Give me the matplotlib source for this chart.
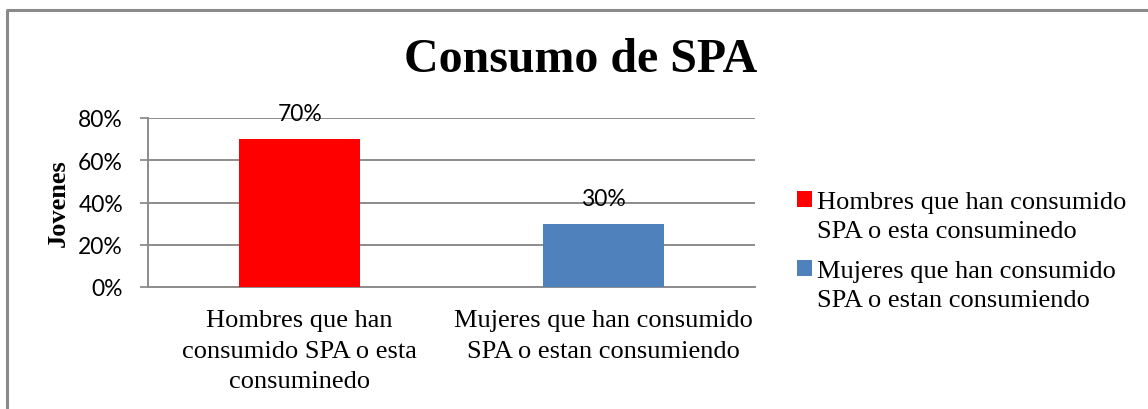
import matplotlib

matplotlib.use("Agg")
import matplotlib.pyplot as plt
from matplotlib.lines import Line2D
from matplotlib.patches import Patch, Rectangle
from matplotlib.legend_handler import HandlerPatch
from matplotlib.ticker import PercentFormatter

# data
categories = [
    "Hombres que han\nconsumido SPA o esta\nconsuminedo",
    "Mujeres que han consumido\nSPA o estan consumiendo",
]
legend_labels = [
    "Hombres que han consumido\nSPA o esta consuminedo",
    "Mujeres que han consumido\nSPA o estan consumiendo",
]
values = [0.70, 0.30]
bar_colors = ["#FF0000", "#4F81BD"]
yticks = [0.0, 0.2, 0.4, 0.6, 0.8]

SERIF = ["Liberation Serif", "DejaVu Serif"]
SANS = ["Lato", "DejaVu Sans"]
GRID = "#8C8C8C"

W, H = 1148, 410
fig = plt.figure(figsize=(W / 100, H / 100), dpi=100)
fig.patch.set_facecolor("white")

# outer chart frame (only top and left edges visible)
fig.add_artist(Line2D([6 / W, 1], [1 - 10.5 / H, 1 - 10.5 / H], transform=fig.transFigure,
                      color="#8A8A8A", lw=2.2, solid_capstyle="butt"))
fig.add_artist(Line2D([7 / W, 7 / W], [0, 1 - 10.5 / H], transform=fig.transFigure,
                      color="#8A8A8A", lw=2.2, solid_capstyle="butt"))

ax = fig.add_axes([148 / W, 1 - 288 / H, (755 - 148) / W, (288 - 119) / H])
x = list(range(len(values)))
bars = ax.bar(x, values, width=0.4, color=bar_colors, zorder=3)
ax.set_xlim(-0.5, len(values) - 0.5)
ax.set_ylim(0, 0.8)
ax.set_yticks(yticks)
ax.yaxis.set_major_formatter(PercentFormatter(1.0, decimals=0))
ax.set_xticks(x)
ax.set_xticklabels(categories, fontfamily=SERIF, fontsize=19, linespacing=1.5)
ax.tick_params(axis="x", length=0, pad=16)
ax.tick_params(axis="y", length=6, width=1.3, color=GRID, labelsize=16.5, pad=12)
for lab in ax.get_yticklabels():
    lab.set_fontfamily(SANS)

ax.grid(axis="y", color=GRID, lw=1.4, zorder=0)
for side in ("top", "right"):
    ax.spines[side].set_visible(False)
for side in ("left", "bottom"):
    ax.spines[side].set_color(GRID)
    ax.spines[side].set_linewidth(1.4)

for b, v in zip(bars, values):
    ax.text(b.get_x() + b.get_width() / 2, v + 0.12, f"{v:.0%}", ha="center", va="center",
            fontsize=16.5, fontfamily=SANS, zorder=4)

ax.set_ylabel("Jovenes", fontfamily=SERIF, fontsize=19, fontweight="bold", labelpad=6)

fig.text(581 / W, 1 - 60 / H, "Consumo de SPA", ha="center", va="center",
         fontfamily=SERIF, fontsize=34.5, fontweight="bold")


# legend square sits on the first text line, as in the original
def first_line_box(legend, orig_handle, xdescent, ydescent, width, height, fontsize):
    return Rectangle((-xdescent, -ydescent + 12), width, height)


handles = [Patch(facecolor=c, edgecolor="none") for c in bar_colors]
leg = fig.legend(handles, legend_labels, loc="center left", bbox_to_anchor=(797 / W, 1 - 252 / H),
                 frameon=False, prop={"family": SERIF, "size": 19}, handlelength=0.55,
                 handleheight=0.55, handletextpad=0.2, labelspacing=0.65, borderaxespad=0,
                 borderpad=0, handler_map={Patch: HandlerPatch(patch_func=first_line_box)})
for t in leg.get_texts():
    t.set_linespacing(1.45)

fig.savefig("out.png", dpi=100, facecolor="white")
